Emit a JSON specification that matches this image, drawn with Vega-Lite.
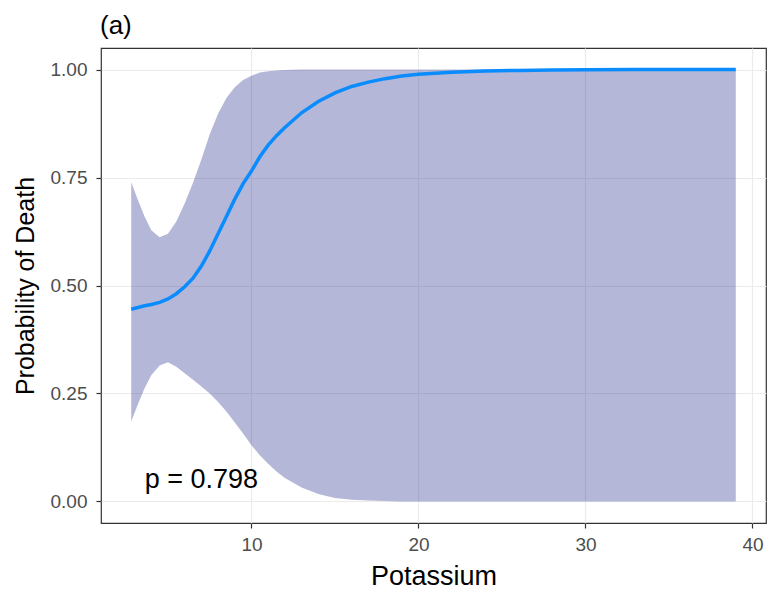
{
  "$schema": "https://vega.github.io/schema/vega-lite/v6.json",
  "width": 665,
  "height": 475,
  "autosize": {"type": "none"},
  "padding": {"left": 101, "top": 48, "right": 7, "bottom": 72},
  "title": {"text": "(a)", "anchor": "start", "frame": "group", "orient": "top", "fontSize": 26, "font": "Liberation Sans", "fontWeight": "normal", "color": "#000000", "baseline": "alphabetic", "offset": -12, "dx": -1},
  "config": {
    "font": "Liberation Sans",
    "view": {"stroke": "#333333", "strokeWidth": 1.2},
    "axis": {"gridColor": "#EBEBEB", "domain": false}
  },
  "datasets": {
    "curve": [
      {"potassium": 2.8, "fit": 0.445, "lower": 0.185, "upper": 0.739},
      {"potassium": 3.2, "fit": 0.449, "lower": 0.225, "upper": 0.698},
      {"potassium": 3.6, "fit": 0.453, "lower": 0.262, "upper": 0.660},
      {"potassium": 4.0, "fit": 0.456, "lower": 0.292, "upper": 0.628},
      {"potassium": 4.5, "fit": 0.461, "lower": 0.315, "upper": 0.612},
      {"potassium": 5.0, "fit": 0.469, "lower": 0.322, "upper": 0.620},
      {"potassium": 5.5, "fit": 0.481, "lower": 0.312, "upper": 0.648},
      {"potassium": 6.0, "fit": 0.497, "lower": 0.297, "upper": 0.690},
      {"potassium": 6.5, "fit": 0.517, "lower": 0.282, "upper": 0.738},
      {"potassium": 7.0, "fit": 0.545, "lower": 0.266, "upper": 0.792},
      {"potassium": 7.5, "fit": 0.580, "lower": 0.250, "upper": 0.850},
      {"potassium": 8.0, "fit": 0.620, "lower": 0.230, "upper": 0.898},
      {"potassium": 8.5, "fit": 0.660, "lower": 0.208, "upper": 0.934},
      {"potassium": 9.0, "fit": 0.700, "lower": 0.183, "upper": 0.959},
      {"potassium": 9.5, "fit": 0.736, "lower": 0.157, "upper": 0.976},
      {"potassium": 10.0, "fit": 0.765, "lower": 0.130, "upper": 0.986},
      {"potassium": 10.5, "fit": 0.798, "lower": 0.107, "upper": 0.993},
      {"potassium": 11.0, "fit": 0.825, "lower": 0.087, "upper": 0.996},
      {"potassium": 11.5, "fit": 0.847, "lower": 0.069, "upper": 0.998},
      {"potassium": 12.0, "fit": 0.866, "lower": 0.054, "upper": 0.999},
      {"potassium": 13.0, "fit": 0.900, "lower": 0.032, "upper": 1.0},
      {"potassium": 14.0, "fit": 0.926, "lower": 0.017, "upper": 1.0},
      {"potassium": 15.0, "fit": 0.946, "lower": 0.008, "upper": 1.0},
      {"potassium": 16.0, "fit": 0.961, "lower": 0.004, "upper": 1.0},
      {"potassium": 17.0, "fit": 0.971, "lower": 0.002, "upper": 1.0},
      {"potassium": 18.0, "fit": 0.979, "lower": 0.001, "upper": 1.0},
      {"potassium": 19.0, "fit": 0.985, "lower": 0.0, "upper": 1.0},
      {"potassium": 20.0, "fit": 0.989, "lower": 0.0, "upper": 1.0},
      {"potassium": 22.0, "fit": 0.994, "lower": 0.0, "upper": 1.0},
      {"potassium": 24.0, "fit": 0.997, "lower": 0.0, "upper": 1.0},
      {"potassium": 26.0, "fit": 0.998, "lower": 0.0, "upper": 1.0},
      {"potassium": 28.0, "fit": 0.999, "lower": 0.0, "upper": 1.0},
      {"potassium": 30.0, "fit": 0.9995, "lower": 0.0, "upper": 1.0},
      {"potassium": 33.0, "fit": 1.0, "lower": 0.0, "upper": 1.0},
      {"potassium": 36.0, "fit": 1.0, "lower": 0.0, "upper": 1.0},
      {"potassium": 39.0, "fit": 1.0, "lower": 0.0, "upper": 1.0}
    ],
    "note": [{"potassium": 7.0, "prob": 0.05, "label": "p = 0.798"}]
  },
  "resolve": {"axis": {"x": "independent", "y": "independent"}},
  "layer": [
    {
      "data": {"name": "curve"},
      "mark": {"type": "area", "color": "#28328c", "opacity": 0.35},
      "encoding": {
        "x": {"field": "potassium", "type": "quantitative",
              "scale": {"domain": [0.99, 40.81], "nice": false, "zero": false},
              "axis": {"orient": "bottom", "title": "Potassium", "values": [10, 20, 30, 40], "tickColor": "#333333", "tickSize": 5, "tickWidth": 1.2, "labelFontSize": 19, "labelColor": "#4D4D4D", "labelPadding": 7, "titleFontSize": 27, "titleFontWeight": "normal", "titleColor": "#000000", "titlePadding": 9, "gridWidth": 1.2}},
        "y": {"field": "upper", "type": "quantitative",
              "scale": {"domain": [-0.05, 1.05], "nice": false, "zero": false},
              "axis": {"orient": "left", "title": "Probability of Death", "values": [0, 0.25, 0.5, 0.75, 1], "format": ".2f", "tickColor": "#333333", "tickSize": 5, "tickWidth": 1.2, "labelFontSize": 19, "labelColor": "#4D4D4D", "labelPadding": 9, "titleFontSize": 25, "titleFontWeight": "normal", "titleColor": "#000000", "titlePadding": 12, "gridWidth": 1.2}},
        "y2": {"field": "lower"}
      }
    },
    {
      "data": {"name": "curve"},
      "mark": {"type": "line", "color": "#0a8cff", "strokeWidth": 3.5},
      "encoding": {
        "x": {"field": "potassium", "type": "quantitative",
              "axis": {"orient": "top", "values": [5, 15, 25, 35], "labels": false, "ticks": false, "title": null, "gridWidth": 0.7, "minExtent": 0, "maxExtent": 0}},
        "y": {"field": "fit", "type": "quantitative",
              "axis": {"orient": "right", "values": [0.125, 0.375, 0.625, 0.875], "labels": false, "ticks": false, "title": null, "gridWidth": 0.7, "minExtent": 0, "maxExtent": 0}}
      }
    },
    {
      "data": {"name": "note"},
      "mark": {"type": "text", "fontSize": 27, "color": "#000000", "align": "center", "baseline": "middle"},
      "encoding": {
        "x": {"field": "potassium", "type": "quantitative", "axis": null},
        "y": {"field": "prob", "type": "quantitative", "axis": null},
        "text": {"field": "label"}
      }
    }
  ]
}
